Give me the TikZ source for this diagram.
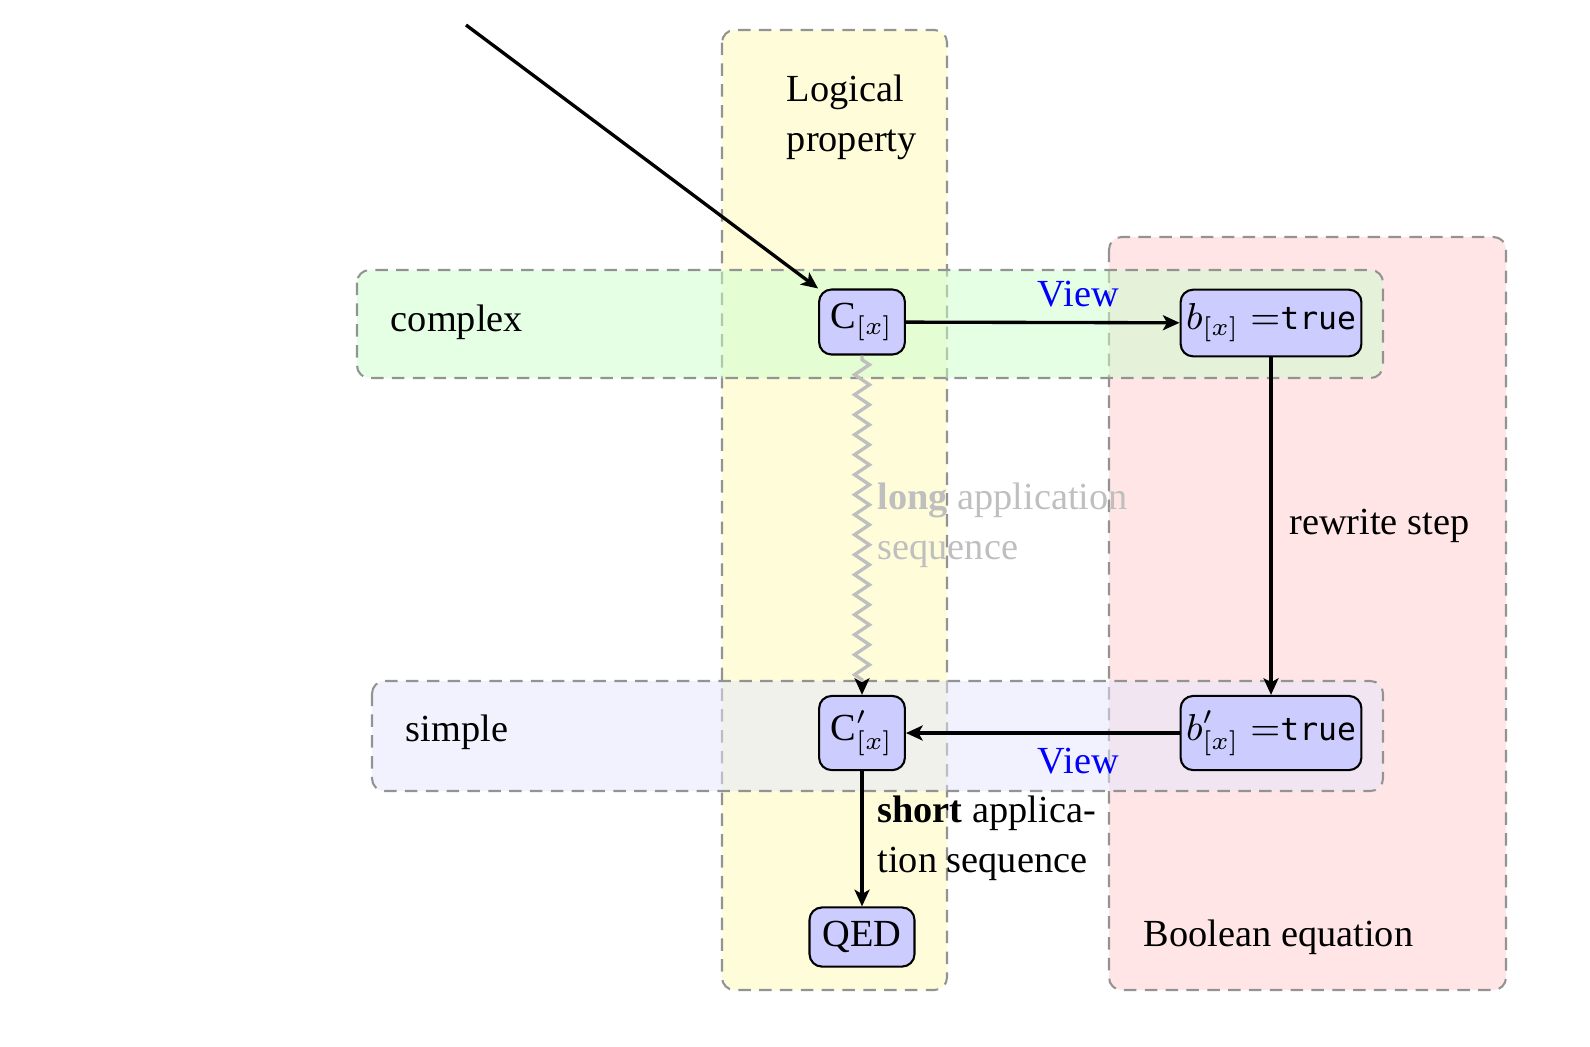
\documentclass[tikz,border=0pt]{standalone}
\usepackage{fontspec}
\setmainfont{Liberation Serif}
\setmonofont{DejaVu Sans Mono}[Scale=0.82]
\usetikzlibrary{arrows.meta,decorations.pathmorphing}
\begin{document}
\begin{tikzpicture}[x=0.24pt,y=-0.24pt, font=\fontsize{9.2}{12}\selectfont,
  region/.style={draw=gray!85, dash pattern=on 3pt off 2pt, line width=0.5pt, rounded corners=3pt, fill opacity=0.5},
  term/.style={draw=black, fill=blue!20, rounded corners=3pt, line width=0.5pt, inner sep=1pt},
  lbl/.style={inner sep=0pt, align=left, anchor=west},
  conn/.style={thick, -{Stealth[length=4pt, width=3.6pt, inset=1pt]}},
]
\useasboundingbox (0,0) rectangle (1590,1046);
% regions
\path[region, fill=yellow!30] (722,30) rectangle (947,990);
\path[region, fill=red!20] (1109,237) rectangle (1506,990);
\path[region, fill=green!20] (357,270) rectangle (1383,378);
\path[region, fill=blue!10] (372,681) rectangle (1383,791);
% region labels
\node[lbl] (lp) at (786,117) {Logical\\property};
\node[lbl] (cx) at (390,322) {complex};
\node[lbl] (sp) at (405,732) {simple};
\node[lbl] (be) at (1143,937) {Boolean equation};
% terms
\node[term, minimum width=20.6pt, minimum height=15.6pt] (C) at (862,322) {$\mathrm{C}_{[x]}$};
\node[term, minimum width=43.4pt, minimum height=16pt] (B) at (1271,323) {$b_{[x]} =$\texttt{true}};
\node[term, minimum width=20.6pt, minimum height=17.8pt] (Cp) at (862,733) {$\mathrm{C}'_{[x]}$};
\node[term, minimum width=43.4pt, minimum height=17.8pt] (Bp) at (1271,733) {$b'_{[x]} =$\texttt{true}};
\node[term, minimum width=25.2pt, minimum height=14.2pt] (Q) at (862,937) {QED};
% connectors
\coordinate (S) at (466,25);
\draw[conn] (S) -- (C.north west);
\draw[conn] (C) -- node[above, pos=0.63, text=blue] (v1) {View} (B);
\draw[conn] (B) -- node[right, inner sep=4pt] (rw) {rewrite step} (Bp);
\draw[conn] (Bp) -- node[below, pos=0.37, text=blue] (v2) {View} (Cp);
\draw[conn] (Cp) -- node[right, align=left] (sh) {\textbf{short} applica-\\tion sequence} (Q);
\draw[gray!50, thick, decorate, decoration={zigzag, amplitude=1.8pt, segment length=4.8pt, pre length=1pt, post length=3pt},
  -{Stealth[black, length=4pt, width=3.6pt, inset=1pt]}]
  (C) -- node[right, align=left, text=gray!50] (lg) {\textbf{long} application\\sequence} (Cp);
\end{tikzpicture}
\end{document}
